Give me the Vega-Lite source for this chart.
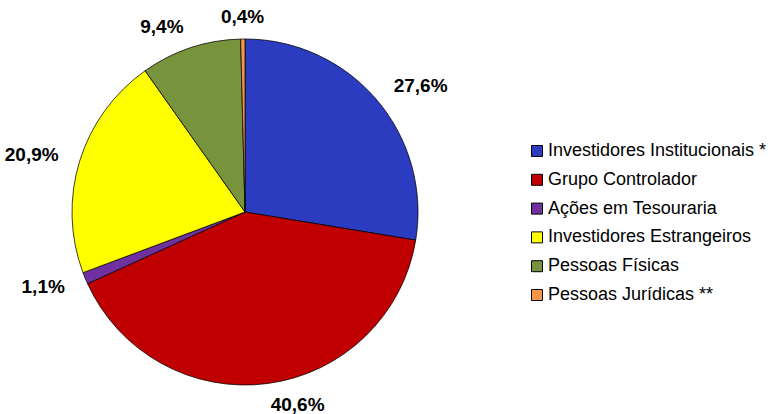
{
  "$schema": "https://vega.github.io/schema/vega-lite/v6.json",
  "width": 490,
  "height": 404,
  "autosize": {"type": "none"},
  "padding": {"left": 0, "top": 10, "right": 290, "bottom": 0},
  "background": "white",
  "config": {"view": {"stroke": null}},
  "data": {
    "values": [
      {"ord": 1, "cat": "Investidores Institucionais *", "value": 27.6, "label": "27,6%"},
      {"ord": 2, "cat": "Grupo Controlador", "value": 40.6, "label": "40,6%"},
      {"ord": 3, "cat": "Ações em Tesouraria", "value": 1.1, "label": "1,1%"},
      {"ord": 4, "cat": "Investidores Estrangeiros", "value": 20.9, "label": "20,9%"},
      {"ord": 5, "cat": "Pessoas Físicas", "value": 9.4, "label": "9,4%"},
      {"ord": 6, "cat": "Pessoas Jurídicas **", "value": 0.4, "label": "0,4%"}
    ]
  },
  "encoding": {
    "theta": {"field": "value", "type": "quantitative", "stack": true},
    "order": {"field": "ord", "type": "quantitative"}
  },
  "layer": [
    {
      "mark": {"type": "arc", "outerRadius": 173, "stroke": "black", "strokeWidth": 0.75},
      "encoding": {
        "color": {
          "field": "cat",
          "type": "nominal",
          "sort": ["Investidores Institucionais *", "Grupo Controlador", "Ações em Tesouraria", "Investidores Estrangeiros", "Pessoas Físicas", "Pessoas Jurídicas **"],
          "scale": {
            "domain": ["Investidores Institucionais *", "Grupo Controlador", "Ações em Tesouraria", "Investidores Estrangeiros", "Pessoas Físicas", "Pessoas Jurídicas **"],
            "range": ["#2B3CC0", "#C00000", "#7030A0", "#FFFF00", "#77933C", "#F79646"]
          },
          "legend": {
            "orient": "none",
            "legendX": 528,
            "legendY": 132,
            "title": null,
            "symbolType": "square",
            "symbolSize": 121,
            "symbolStrokeColor": "black",
            "symbolStrokeWidth": 1,
            "labelFont": "Liberation Sans",
            "labelFontSize": 18,
            "labelColor": "black",
            "labelOffset": 2,
            "rowPadding": 10.8,
            "labelLimit": 300
          }
        }
      }
    },
    {
      "mark": {"type": "text", "radius": 195, "align": "left", "baseline": "middle", "font": "Liberation Sans", "fontWeight": "bold", "fontSize": 19, "color": "black"},
      "encoding": {
        "text": {"condition": {"test": "indexof(['Investidores Institucionais *','Grupo Controlador'], datum.cat) >= 0", "field": "label"}, "value": ""}
      }
    },
    {
      "mark": {"type": "text", "radius": 195, "align": "right", "baseline": "middle", "font": "Liberation Sans", "fontWeight": "bold", "fontSize": 19, "color": "black"},
      "encoding": {
        "text": {"condition": {"test": "indexof(['Ações em Tesouraria','Investidores Estrangeiros','Pessoas Físicas'], datum.cat) >= 0", "field": "label"}, "value": ""}
      }
    },
    {
      "mark": {"type": "text", "radius": 195, "align": "center", "baseline": "middle", "font": "Liberation Sans", "fontWeight": "bold", "fontSize": 19, "color": "black"},
      "encoding": {
        "text": {"condition": {"test": "datum.cat == 'Pessoas Jurídicas **'", "field": "label"}, "value": ""}
      }
    }
  ]
}
